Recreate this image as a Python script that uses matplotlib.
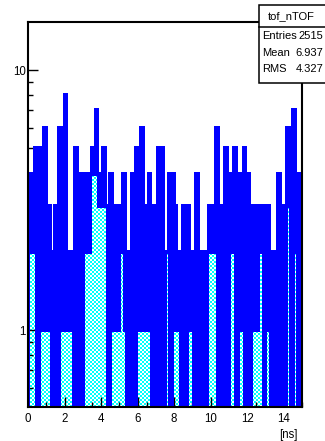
import numpy as np
import matplotlib
matplotlib.use("Agg")
import matplotlib.pyplot as plt
from matplotlib.patches import Rectangle
from matplotlib.lines import Line2D
from matplotlib.ticker import LogLocator, NullFormatter, MultipleLocator

# tof_nTOF histogram, 0.1 ns bins from 0 to 15 ns (counts)
bin_width = 0.1
counts = [
    3, 4, 2, 4, 5, 0, 5, 1, 5, 6,
    1, 3, 1, 0, 2, 3, 0, 6, 5, 1,
    8, 2, 1, 2, 1, 0, 5, 0, 4, 0,
    4, 2, 4, 2, 4, 5, 4, 7, 4, 3,
    3, 5, 3, 3, 0, 4, 1, 2, 3, 1,
    2, 3, 4, 1, 0, 2, 0, 4, 0, 5,
    1, 5, 6, 1, 3, 1, 4, 1, 0, 3,
    0, 5, 0, 5, 0, 2, 2, 4, 0, 4,
    3, 1, 2, 1, 0, 3, 0, 3, 2, 1,
    2, 0, 4, 0, 2, 0, 2, 0, 2, 3,
    2, 3, 2, 6, 0, 3, 0, 2, 5, 0,
    4, 2, 4, 5, 0, 4, 1, 4, 5, 0,
    4, 0, 3, 1, 3, 1, 3, 2, 3, 0,
    2, 3, 1, 0, 2, 0, 2, 4, 0, 3,
    0, 3, 6, 3, 0, 7, 4, 2, 0, 4,
]
xtick_vals = [0, 2, 4, 6, 8, 10, 12, 14]
xtick_labels = ["0", "2", "4", "6", "8", "10", "12", "14"]
ytick_vals = [1, 10]
ytick_labels = ["1", "10"]
stats_title = "tof_nTOF"
stats_rows = [("Entries", "2515"), ("Mean", "6.937"), ("RMS", "4.327")]

W, H = 325, 441
Y_MIN, Y_MAX = 0.506, 15.3
BLUE = "#0000ff"

plt.rcParams["font.family"] = ["Liberation Sans", "DejaVu Sans"]


def fx(px):
    return px / W


def fy(py):
    return 1 - py / H


def checker_fill(ax, heights, edges):
    # ROOT's cyan pattern fill: cyan / white checker under the histogram
    cols = np.arange(W) + 0.5
    inv = ax.transData.inverted()
    data_x = inv.transform(np.column_stack([cols, np.full(W, H / 2)]))[:, 0]
    idx = np.clip(np.searchsorted(edges, data_x, side="right") - 1, 0, len(heights) - 1)
    inside = (data_x >= edges[0]) & (data_x < edges[-1])
    top = ax.transData.transform(np.column_stack([data_x, heights[idx]]))[:, 1]
    bottom = ax.transData.transform((edges[0], Y_MIN))[1]

    rows = np.arange(H)[:, None] + 0.5
    mask = (rows > bottom) & (rows < top[None, :]) & inside[None, :]
    rr, cc = np.mgrid[0:H, 0:W]
    rgba = np.zeros((H, W, 4), dtype=np.uint8)
    rgba[..., :3] = 255
    rgba[(rr // 2 + cc // 2) % 2 == 0, 0] = 0
    rgba[..., 3] = np.where(mask, 255, 0)
    return rgba


def main():
    counts_arr = np.array(counts, dtype=float)
    edges = np.arange(len(counts) + 1) * bin_width
    # empty bins drop to the bottom of the log axis, as ROOT draws them
    heights = np.where(counts_arr > 0, counts_arr, Y_MIN)

    fig = plt.figure(figsize=(W / 100, H / 100), dpi=100)
    fig.patch.set_facecolor("white")
    ax = fig.add_axes([fx(28), 1 - 407 / H, 274 / W, 385 / H])
    ax.patch.set_visible(False)
    ax.set_yscale("log")
    ax.set_xlim(0, 15)
    ax.set_ylim(Y_MIN, Y_MAX)

    fig.figimage(checker_fill(ax, heights, edges), xo=0, yo=0,
                 origin="lower", zorder=-1, interpolation="nearest",
                 resample=False)

    ax.stairs(heights, edges, baseline=Y_MIN, fill=False, color=BLUE,
              linewidth=1.5, antialiased=False, zorder=2)

    for side in ["left", "right", "top", "bottom"]:
        ax.spines[side].set_linewidth(1.5)
        ax.spines[side].set_color("black")

    ax.set_xticks(xtick_vals, xtick_labels)
    ax.xaxis.set_minor_locator(MultipleLocator(0.5))
    ax.set_yticks(ytick_vals, ytick_labels)
    ax.yaxis.set_minor_locator(LogLocator(base=10, subs=np.arange(2, 10)))
    ax.yaxis.set_minor_formatter(NullFormatter())
    ax.tick_params(which="both", direction="in", top=False, right=False,
                   width=1.0, color="black", labelsize=8.3)
    ax.tick_params(which="major", length=7)
    ax.tick_params(which="minor", length=3.5)
    ax.tick_params(axis="x", pad=4.5)
    ax.tick_params(axis="y", pad=1.5)

    fig.text(fx(298), fy(435), "[ns]", ha="right", va="center", fontsize=8.3)

    # stats box
    fig.add_artist(Rectangle((fx(259), fy(83)), (330 - 259) / W, 78 / H,
                             transform=fig.transFigure, facecolor="white",
                             edgecolor="black", linewidth=1.1, zorder=5))
    fig.add_artist(Line2D([fx(259), fx(330)], [fy(27), fy(27)],
                          transform=fig.transFigure, color="black",
                          linewidth=1.1, zorder=6))
    fig.text(fx(291), fy(16), stats_title, ha="center", va="center",
             fontsize=8, zorder=7)
    for k, (name, value) in enumerate(stats_rows):
        y = fy(36 + 16.5 * k)
        fig.text(fx(262), y, name, ha="left", va="center", fontsize=8, zorder=7)
        fig.text(fx(323), y, value, ha="right", va="center", fontsize=8, zorder=7)

    fig.savefig("out.png", dpi=100, facecolor="white")


if __name__ == "__main__":
    main()
